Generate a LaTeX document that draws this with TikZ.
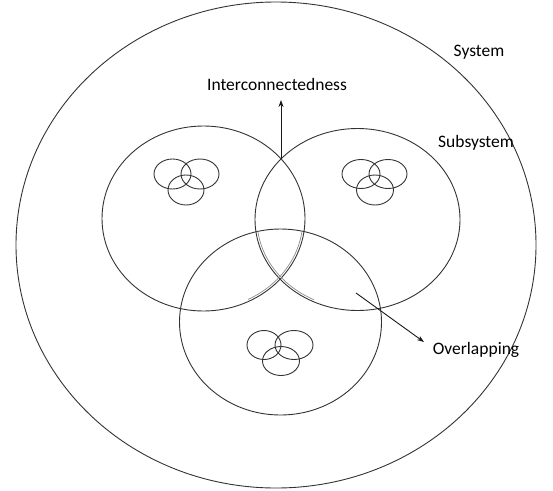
\documentclass[tikz,border=0pt]{standalone}
\usepackage{fontspec}
\setmainfont{Carlito}
\usetikzlibrary{shapes.geometric,arrows.meta}
\begin{document}
\begin{tikzpicture}[x=1pt,y=-1pt,
  ring/.style={draw=black!80,line width=0.9pt,ellipse,inner sep=0pt},
  echo/.style={draw=black!45,line width=0.7pt,ellipse,inner sep=0pt},
  label/.style={font=\fontsize{17.5}{20}\selectfont,inner sep=1pt,text=black},
  pointer/.style={draw=black!90,line width=0.9pt,-{Stealth[length=7pt,width=5pt]}}]
\useasboundingbox (0,0) rectangle (553,490);
% the system
\node[ring,minimum width=520pt,minimum height=486pt] (sys) at (276,245) {};
% three subsystems
\node[ring,minimum width=203pt,minimum height=185pt] (subL) at (203.5,218.5) {};
\node[ring,minimum width=205pt,minimum height=182pt] (subR) at (357.5,219.5) {};
\node[ring,minimum width=202pt,minimum height=186pt] (subB) at (280.5,322) {};
% faint second strokes where all three subsystems meet
\begin{scope}
  \clip (280.5,322) ellipse [x radius=101pt, y radius=93pt];
  \clip (248,226) rectangle (314,302);
  \node[echo,minimum width=199pt,minimum height=181pt] (subLin) at (203.5,218.5) {};
  \node[echo,minimum width=201pt,minimum height=178pt] (subRin) at (357.5,219.5) {};
\end{scope}
% small venn groups inside each subsystem
\node[ring,minimum width=37pt,minimum height=30pt] (aL) at (172.5,174) {};
\node[ring,minimum width=38pt,minimum height=30pt] (aR) at (200,174) {};
\node[ring,minimum width=36pt,minimum height=30pt] (aB) at (186,190) {};
\node[ring,minimum width=38pt,minimum height=29pt] (bL) at (361,174) {};
\node[ring,minimum width=38pt,minimum height=29pt] (bR) at (388,174) {};
\node[ring,minimum width=37pt,minimum height=30pt] (bB) at (375,190) {};
\node[ring,minimum width=34pt,minimum height=29pt] (cL) at (264,345) {};
\node[ring,minimum width=38pt,minimum height=29pt] (cR) at (294,345) {};
\node[ring,minimum width=37pt,minimum height=29pt] (cB) at (281,361) {};
% labels
\node[label] (system) at (479,52) {System};
\node[label] (subsystem) at (476,143) {Subsystem};
\node[label] (inter) at (277,84) {Interconnectedness};
\node[label] (overlap) at (476,350) {Overlapping};
% arrows
\coordinate (meet) at (281,158);
\coordinate (lens) at (356,293);
\draw[pointer] (meet) -- (281,100);
\draw[pointer] (lens) -- (424,342);
\end{tikzpicture}
\end{document}
